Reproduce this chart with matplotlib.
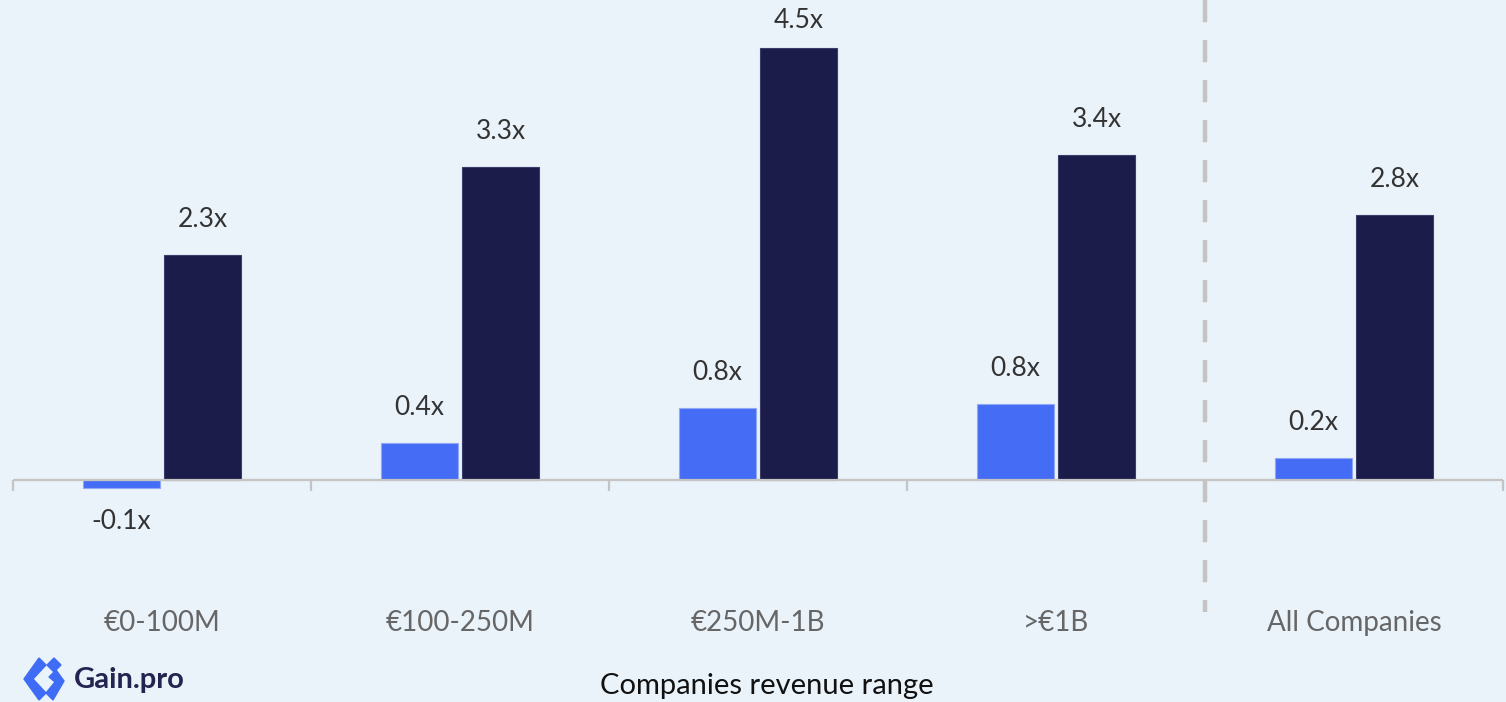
import numpy as np
import matplotlib.pyplot as plt
from matplotlib.patches import Polygon

# --- data ---
categories = ["€0-100M", "€100-250M", "€250M-1B", ">€1B", "All Companies"]
blue_values = [-0.08, 0.39, 0.75, 0.79, 0.23]
dark_values = [2.34, 3.26, 4.50, 3.39, 2.76]
blue_labels = ["-0.1x", "0.4x", "0.8x", "0.8x", "0.2x"]
dark_labels = ["2.3x", "3.3x", "4.5x", "3.4x", "2.8x"]
x_title = "Companies revenue range"

BG = "#EAF2FA"
BLUE = "#446CF4"
NAVY = "#1B1C4A"
GREY = "#C4C4C4"

plt.rcParams["font.family"] = ["Lato", "DejaVu Sans"]

fig = plt.figure(figsize=(15.06, 7.02), dpi=100, facecolor=BG)
ax = fig.add_axes([13 / 1506, 62 / 702, 1490 / 1506, 640 / 702])
ax.set_facecolor(BG)

x = np.arange(len(categories))
off, w = 0.136, 0.258
ax.bar(x - off, blue_values, w, color=BLUE, edgecolor="#8FA8F8", linewidth=0.8)
ax.bar(x + off, dark_values, w, color=NAVY, edgecolor="#3A3C6A", linewidth=0.8)

ax.set_xlim(-0.5, 4.5)
ax.set_ylim(-1.667, 5.0)
for s in ax.spines.values():
    s.set_visible(False)
ax.set_xticks([])
ax.set_yticks([])

# baseline and boundary ticks
ax.axhline(0, color=GREY, lw=1.6, zorder=1)
ax.vlines(np.arange(-0.5, 5.0, 1.0), -0.11, 0, color=GREY, lw=1.6, clip_on=False)

# separator before "All Companies"
ax.plot([3.5, 3.5], [5.0, -1.375], color=GREY, lw=3.2, dashes=(5, 4),
        solid_capstyle="butt", dash_capstyle="butt", clip_on=False)

# value labels
LBL = dict(ha="center", va="center", fontsize=19, color="#333333")
for i in range(len(categories)):
    bv = blue_values[i]
    if bv >= 0:
        ax.text(x[i] - off, bv + 0.37, blue_labels[i], **LBL)
    else:
        ax.text(x[i] - off, bv - 0.35, blue_labels[i], **LBL)
    ax.text(x[i] + off, min(dark_values[i] + 0.37, 4.79), dark_labels[i], **LBL)

# category labels
for i, c in enumerate(categories):
    ax.text(x[i], -1.49, c, ha="center", va="center", fontsize=20,
            color="#666666")

fig.text(767 / 1506, 1 - 686 / 702, x_title, ha="center", va="center",
         fontsize=21, color="#111111")

# logo
def px(xp, yp):
    return (xp / 1506, 1 - yp / 702)

logo_parts = [
    [(39, 658), (46, 665), (33, 679), (46, 693), (39, 700), (24, 679)],
    [(54, 658), (61, 665), (54, 672), (47, 665)],
    [(49, 677), (56, 670), (64, 681), (53, 700), (46, 693), (55, 682)],
]
for pts in logo_parts:
    fig.patches.append(Polygon([px(a, b) for a, b in pts], closed=True,
                               transform=fig.transFigure, color="#3E6CF5"))
fig.text(74 / 1506, 1 - 680 / 702, "Gain.pro", ha="left", va="center",
         fontsize=21, fontweight="bold", color="#23244F")

fig.savefig("out.png", dpi=100, facecolor=BG)
